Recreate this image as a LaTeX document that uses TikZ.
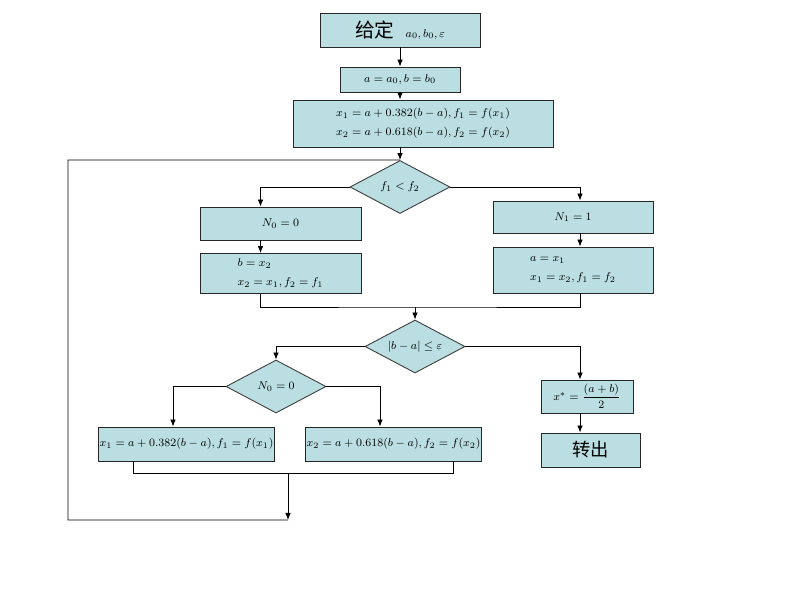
\documentclass[tikz,border=0pt]{standalone}
\usepackage{amsmath,amssymb}
\usepackage{fontspec}
\newfontfamily\cjk{Noto Sans CJK SC}
\usetikzlibrary{arrows.meta,calc,shapes.geometric}
\definecolor{boxfill}{RGB}{186,222,225}

\begin{document}
\begin{tikzpicture}[x=0.025cm,y=-0.025cm,font=\footnotesize,>={Latex[length=5pt,width=4pt]},line width=0.6pt,
	box/.style={draw=black!85,line width=0.65pt,fill=boxfill,inner sep=1pt},
	test/.style={diamond,draw=black!75,line width=0.65pt,fill=boxfill,inner sep=0pt,aspect=1.9,minimum width=2.5cm,minimum height=1.325cm}]
	\useasboundingbox (0,0) rectangle (800,600);
	% boxes, top part
	\node[box,minimum width=4cm,minimum height=0.85cm] (start) at (400,30) {{\cjk\fontsize{14}{16}\selectfont 给定}\quad $a_0,b_0,\varepsilon$};
	\node[box,minimum width=3cm,minimum height=0.625cm] (init) at (400,79.5) {$a=a_0, b=b_0$};
	\node[box,minimum width=6.5cm,minimum height=1.175cm,align=left] (trial) at (423,123.5) {$x_1=a+0.382(b-a), f_1=f(x_1)$\\[4pt]$x_2=a+0.618(b-a), f_2=f(x_2)$};
	\node[test] (cmp) at (400,187) {$f_1<f_2$};
	\node[box,minimum width=4.025cm,minimum height=0.825cm] (keep0) at (280.5,223.5) {$N_0=0$};
	\node[box,minimum width=4.025cm,minimum height=1cm,align=left] (upd0) at (280.5,273.5) {$b=x_2$\\[4pt]$x_2=x_1, f_2=f_1$};
	\node[box,minimum width=4cm,minimum height=0.8cm] (keep1) at (573,217) {$N_1=1$};
	\node[box,minimum width=4cm,minimum height=1.15cm,align=left] (upd1) at (573,270) {$a=x_1$\\[4pt]$x_1=x_2, f_1=f_2$};
	% lower part
	\node[test] (stop) at (415,346.5) {$|b-a|\le\varepsilon$};
	\node[test] (side) at (276,386.5) {$N_0=0$};
	\node[box,minimum width=4.325cm,minimum height=0.85cm] (new1) at (186.5,444) {$x_1=a+0.382(b-a), f_1=f(x_1)$};
	\node[box,minimum width=4.325cm,minimum height=0.85cm] (new2) at (393.5,444) {$x_2=a+0.618(b-a), f_2=f(x_2)$};
	\node[box,minimum width=2.3cm,minimum height=0.825cm] (result) at (587,396.5) {$x^{*}=\dfrac{(a+b)}{2}$};
	\node[box,minimum width=2.475cm,minimum height=0.85cm] (out) at (590.5,450) {\cjk\fontsize{13}{15}\selectfont 转出};
	\coordinate (join) at (415,307);
	\coordinate (back) at (288,473);
	\coordinate (loop) at (288,520);
	\coordinate (corner) at (68,160);
	% connectors
	\draw[->] (start) -- (init);
	\draw[->] (init.south) -- (init.south |- trial.north);
	\draw[->] (cmp.north |- trial.south) -- (cmp.north);
	\draw[->] (cmp.west) -| ($(keep0.north)+(-20,0)$);
	\draw[->] ($(keep0.south)+(-20,0)$) -- ($(upd0.north)+(-20,0)$);
	\draw[->] (cmp.east) -| ($(keep1.north)+(7,0)$);
	\draw[->] ($(keep1.south)+(7,0)$) -- ($(upd1.north)+(7,0)$);
	\draw ($(upd0.south)+(-20,0)$) |- (join) -| ($(upd1.south)+(7,0)$);
	\draw[->] (join) -- (stop.north);
	\draw[->] (stop.west) -| (side.north);
	\draw[->] (side.west) -| ($(new1.north)+(-13.5,0)$);
	\draw[->] (side.east) -| ($(new2.north)+(-13.5,0)$);
	\draw ($(new1.south)+(-53.5,0)$) |- (back) -| ($(new2.south)+(59.5,0)$);
	\draw[->] (back) -- (loop);
	\draw (loop) -| (corner) -- (cmp.north);
	\draw[->] (stop.east) -| ($(result.north)+(-7,0)$);
	\draw[->] ($(result.south)+(-7,0)$) -- ($(out.north)+(-10.5,0)$);
\end{tikzpicture}
\end{document}
